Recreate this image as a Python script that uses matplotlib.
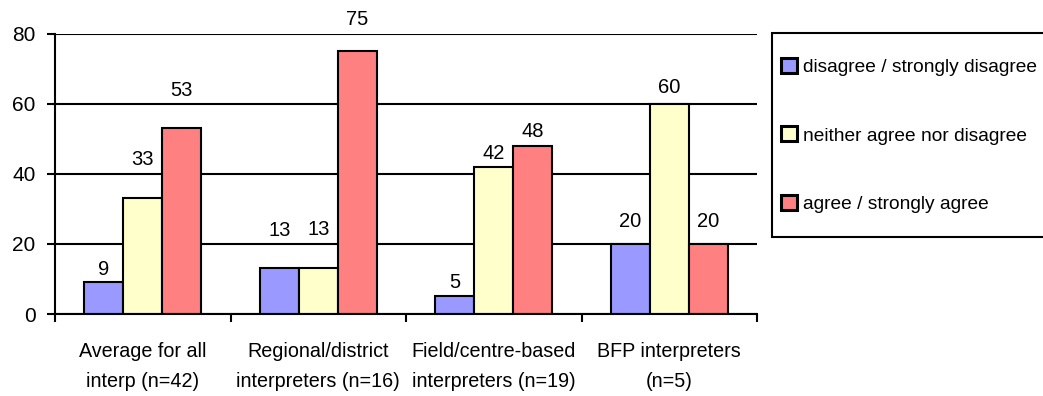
import numpy as np
import matplotlib.pyplot as plt
from matplotlib.patches import Rectangle

categories = ["Average for all\ninterp (n=42)",
              "Regional/district\ninterpreters (n=16)",
              "Field/centre-based\ninterpreters (n=19)",
              "BFP interpreters\n(n=5)"]
series_names = ["disagree / strongly disagree",
                "neither agree nor disagree",
                "agree / strongly agree"]
disagree = [9, 13, 5, 20]
neither = [33, 13, 42, 60]
agree = [53, 75, 48, 20]

colors = ["#9999FF", "#FFFFCC", "#FF8080"]
# vertical offset (points) of each value label above its bar
label_offsets = [[9, 27.4, 10.4, 16.2],
                 [27.7, 27.7, 9.7, 11.9],
                 [27, 23, 10.4, 16.2]]

plt.rcParams['font.family'] = ['Liberation Sans', 'DejaVu Sans']

fig = plt.figure(figsize=(10.43, 3.96), dpi=100)
ax = fig.add_axes([55 / 1043, 1 - 314 / 396, (757 - 55) / 1043, (314 - 33.5) / 396])

x = np.arange(len(categories))
width = 0.222
handles = []
for i, (vals, name) in enumerate(zip([disagree, neither, agree], series_names)):
    bars = ax.bar(x + (i - 1) * width, vals, width, color=colors[i],
                  edgecolor="black", linewidth=1.5, label=name, zorder=3)
    handles.append(bars)
    for b, v, off in zip(bars, vals, label_offsets[i]):
        ax.annotate(str(v), (b.get_x() + b.get_width() / 2, v),
                    xytext=(0, off), textcoords="offset points",
                    ha="center", va="center", fontsize=14.5, clip_on=False)

ax.set_xlim(-0.5, len(categories) - 0.5)
ax.set_ylim(0, 80)
ax.set_yticks([0, 20, 40, 60, 80])
ax.yaxis.grid(True, color="black", linewidth=1.5, zorder=0)
ax.set_axisbelow(True)
for s in ["top", "right"]:
    ax.spines[s].set_visible(False)
for s in ["left", "bottom"]:
    ax.spines[s].set_linewidth(1.5)
    ax.spines[s].set_zorder(4)

ax.set_xticks(x)
ax.set_xticklabels(categories, fontsize=14.2, linespacing=1.72)
ax.set_xticks(np.arange(len(categories) + 1) - 0.5, minor=True)
ax.tick_params(axis="x", which="major", length=0, pad=20.5)
ax.tick_params(axis="x", which="minor", length=6, width=1.5, direction="out")
ax.tick_params(axis="y", length=6, width=1.5, pad=8, labelsize=15)

# legend box, running off the right edge
fig.patches.append(Rectangle((772 / 1043, 1 - 237 / 396), 300 / 1043, 204 / 396,
                             transform=fig.transFigure, facecolor="white",
                             edgecolor="black", linewidth=1.5, zorder=1))
leg = fig.legend(handles=handles, loc="upper left",
                 bbox_to_anchor=(781 / 1043, 1 - 58 / 396),
                 frameon=False, fontsize=13.8,
                 borderpad=0, borderaxespad=0,
                 handlelength=0.83, handleheight=0.83, handletextpad=0.3,
                 labelspacing=2.62)
for h in leg.legend_handles:
    h.set_linewidth(2.2)

fig.savefig("out.png", dpi=100)
